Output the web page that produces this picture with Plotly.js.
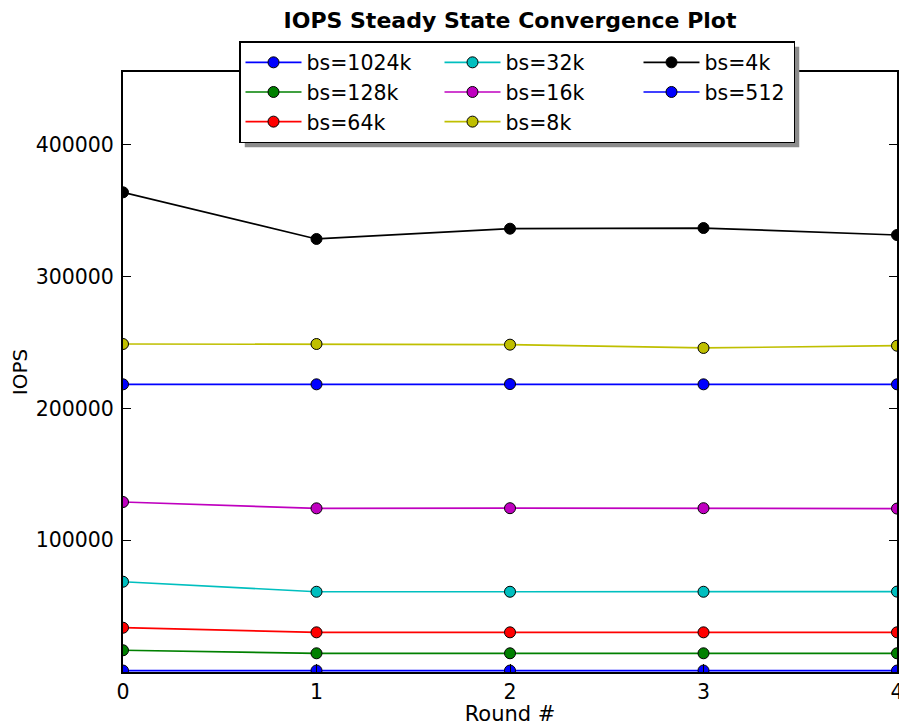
<!DOCTYPE html>
<html>
<head>
<meta charset="utf-8">
<script src="https://cdn.plot.ly/plotly-3.0.1.min.js"></script>
<style>html,body{margin:0;padding:0;background:#fff;}#chart{width:899px;height:726px;}</style>
</head>
<body>
<div id="chart"></div>
<script>
// Data
const rounds = [0, 1, 2, 3, 4];
const seriesNames = ["bs=1024k", "bs=128k", "bs=64k", "bs=32k", "bs=16k", "bs=8k", "bs=4k", "bs=512"];
const iops_1024k = [1100, 1100, 1100, 1100, 1100];
const iops_128k = [16500, 14200, 14200, 14200, 14200];
const iops_64k = [33600, 30100, 30100, 30100, 30100];
const iops_32k = [68500, 60900, 60900, 60900, 61000];
const iops_16k = [129000, 124200, 124300, 124300, 124000];
const iops_8k = [248900, 248900, 248400, 245900, 247600];
const iops_4k = [364000, 328600, 336400, 336900, 331600];
const iops_512 = [218300, 218300, 218500, 218300, 218300];
const seriesValues = [iops_1024k, iops_128k, iops_64k, iops_32k, iops_16k, iops_8k, iops_4k, iops_512];
const yTickVals = [100000, 200000, 300000, 400000];
const xTickVals = [0, 1, 2, 3, 4];

// Styling (matplotlib classic colour cycle)
const colors = ["#0000ff", "#008000", "#ff0000", "#00bfbf", "#bf00bf", "#bfbf00", "#000000", "#0000ff"];
// legend arranged column-wise in 3 columns: rank gives row-major order
const ranks = [1, 4, 7, 2, 5, 8, 3, 6];
const lastCol = [false, false, false, false, false, false, true, true];

const FONT = "DejaVu Sans, Liberation Sans, sans-serif";

const traces = seriesNames.map((name, i) => {
  const t = {
    x: rounds,
    y: seriesValues[i],
    name: name,
    type: "scatter",
    mode: "lines+markers",
    line: {color: colors[i], width: 1.7},
    marker: {color: colors[i], size: 11, line: {color: "#000000", width: 1}},
    legendrank: ranks[i]
  };
  if (lastCol[i]) t.legendwidth = 84;
  return t;
});

const plotL = 123, plotR = 897, plotT = 72, plotB = 672;
const W = 899, H = 726;
const pw = plotR - plotL, ph = plotB - plotT;

const legLeftPx = 239, legTopPx = 41;

const layout = {
  width: W,
  height: H,
  margin: {l: plotL, r: W - plotR, t: plotT, b: H - plotB, autoexpand: false},
  paper_bgcolor: "#ffffff",
  plot_bgcolor: "#ffffff",
  font: {family: FONT, size: 20, color: "#000000"},
  title: {
    text: "IOPS Steady State Convergence Plot",
    font: {family: FONT, size: 22, weight: "bold", color: "#000000"},
    x: 0.5, xref: "paper", xanchor: "center",
    y: 1 - 20 / H, yref: "container", yanchor: "middle"
  },
  xaxis: {
    range: [0, 4],
    tickvals: xTickVals,
    ticktext: xTickVals.map(String),
    ticks: "inside", ticklen: 8, tickwidth: 1, tickcolor: "#000000",
    showline: true, linecolor: "#000000", linewidth: 2, mirror: "allticks",
    showgrid: false, zeroline: false,
    tickfont: {family: FONT, size: 20.5},
    ticklabelstandoff: 0,
    ticklabeloverflow: "allow",
    title: {text: "Round #", font: {family: FONT, size: 21}, standoff: 8}
  },
  yaxis: {
    range: [0, 455300],
    tickvals: yTickVals,
    ticktext: yTickVals.map(String),
    ticks: "inside", ticklen: 8, tickwidth: 1, tickcolor: "#000000",
    showline: true, linecolor: "#000000", linewidth: 2, mirror: "allticks",
    showgrid: false, zeroline: false,
    tickfont: {family: FONT, size: 20.5},
    ticklabelstandoff: 3,
    title: {text: "IOPS", font: {family: FONT, size: 20}, standoff: 3}
  },
  showlegend: true,
  legend: {
    orientation: "h",
    x: (legLeftPx - plotL) / pw, xanchor: "left",
    y: (plotB - legTopPx) / ph, yanchor: "top",
    bgcolor: "#ffffff", bordercolor: "#000000", borderwidth: 1.5,
    font: {family: FONT, size: 20.5},
    itemwidth: 56,
    entrywidth: 128,
    traceorder: "normal"
  },
  shapes: []
};

Plotly.newPlot("chart", traces, layout, {displayModeBar: false, staticPlot: true}).then(gd => {
  // draw legend shadow behind the legend box, using its rendered size
  const bg = gd.querySelector(".legend .bg");
  if (bg) {
    const bb = bg.getBoundingClientRect();
    const root = gd.getBoundingClientRect();
    const x0 = bb.left - root.left + 5, y0 = bb.top - root.top + 5;
    const x1 = x0 + bb.width, y1 = y0 + bb.height;
    Plotly.relayout(gd, {shapes: [{
      type: "rect", xref: "paper", yref: "paper", layer: "above",
      x0: (x0 - plotL) / pw, x1: (x1 - plotL) / pw,
      y0: (plotB - y1) / ph, y1: (plotB - y0) / ph,
      fillcolor: "#8c8c8c", line: {width: 0}
    }]});
  }
});
</script>
</body>
</html>
